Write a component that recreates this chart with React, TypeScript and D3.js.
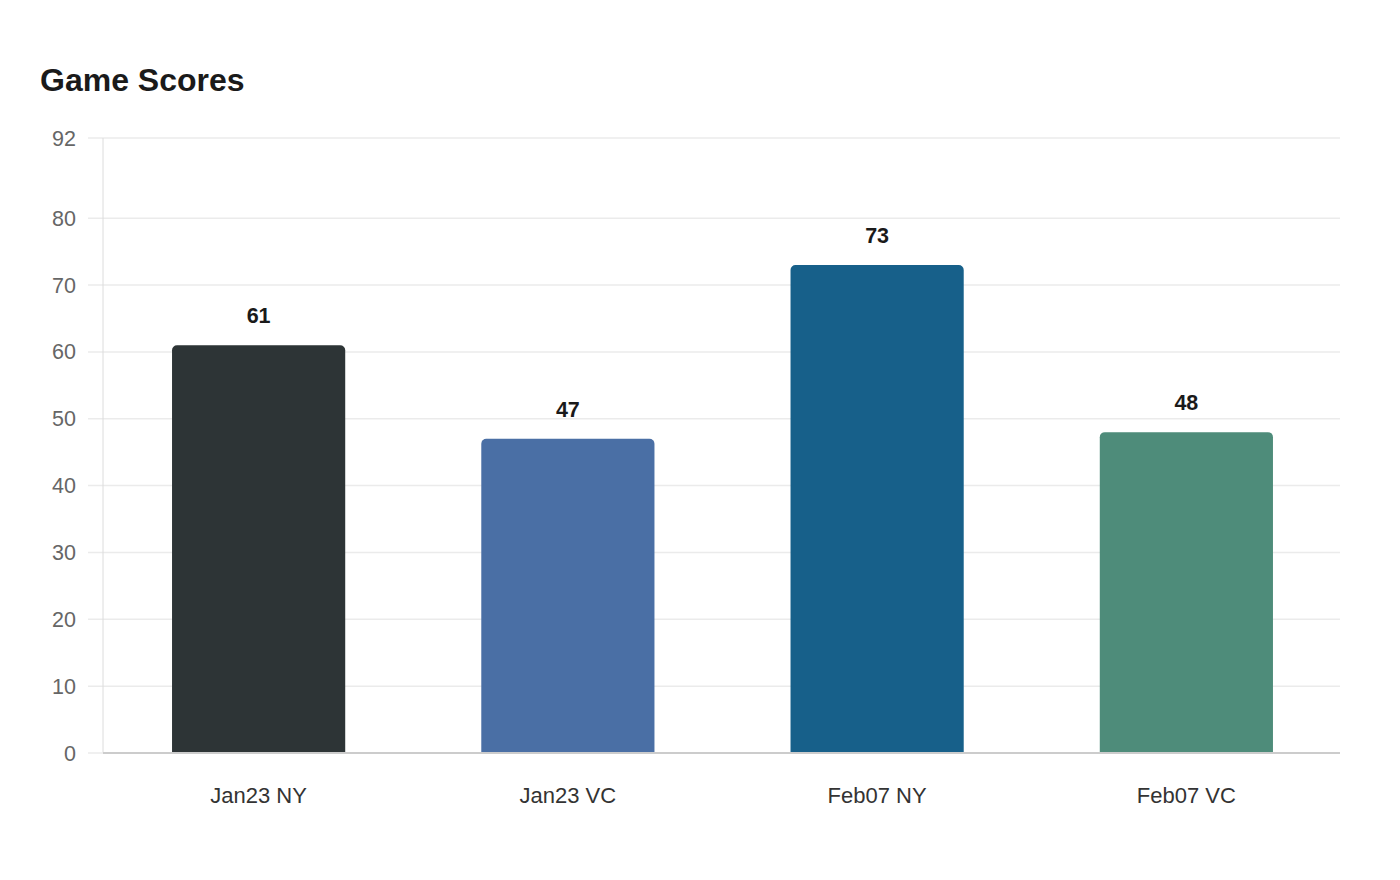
import React from "react";
import * as d3 from "d3";

const categories = ["Jan23 NY", "Jan23 VC", "Feb07 NY", "Feb07 VC"];
const scores = [61, 47, 73, 48];
const colors = ["#2d3436", "#4a6fa5", "#17608a", "#4e8c7a"];
const yTicks = [0, 10, 20, 30, 40, 50, 60, 70, 80, 92];

const W = 1400;
const H = 880;
const left = 103;
const right = 1340;
const top = 138;
const bottom = 753;
const FONT = "'Liberation Sans', Arial, Helvetica, sans-serif";

function topRoundedRect(x: number, y: number, w: number, h: number, r: number) {
  const p = d3.path();
  p.moveTo(x, y + h);
  p.lineTo(x, y + r);
  p.arcTo(x, y, x + r, y, r);
  p.lineTo(x + w - r, y);
  p.arcTo(x + w, y, x + w, y + r, r);
  p.lineTo(x + w, y + h);
  p.closePath();
  return p.toString();
}

export default function App() {
  const x = d3.scaleBand<string>().domain(categories).range([left + 1, right + 1]).paddingInner(0.44).paddingOuter(0.22);
  const y = d3.scaleLinear().domain([0, 92]).range([bottom, top]);

  return (
    <svg width={W} height={H} style={{ position: "absolute", left: 0, top: 0, background: "#fff" }} fontFamily={FONT}>
      <text x={40} y={91} fontSize={32} fontWeight="bold" fill="#1a1a1a">Game Scores</text>
      {yTicks.map((t) => (
        <g key={t}>
          {t !== 0 && (
            <line x1={88} x2={right} y1={y(t)} y2={y(t)} stroke="#ebebeb" strokeWidth={1.5} />
          )}
          <text x={76} y={y(t)} dy="0.35em" textAnchor="end" fontSize={21.5} fill="#666">{t}</text>
        </g>
      ))}
      <line x1={left} x2={left} y1={top} y2={bottom} stroke="#dcdcdc" strokeWidth={1} />
      <line x1={88} x2={left} y1={bottom} y2={bottom} stroke="#ebebeb" strokeWidth={1.5} />
      {categories.map((c, i) => {
        const bx = x(c)!;
        const bw = x.bandwidth();
        const by = y(scores[i]);
        return (
          <g key={c}>
            <path d={topRoundedRect(bx, by, bw, bottom - by, 5)} fill={colors[i]} />
            <text x={bx + bw / 2} y={by - 22} textAnchor="middle" fontSize={21.5} fontWeight="bold" fill="#1a1a1a">{scores[i]}</text>
            <text x={bx + bw / 2} y={803} textAnchor="middle" fontSize={22} fill="#333">{c}</text>
          </g>
        );
      })}
      <line x1={left} x2={right} y1={bottom} y2={bottom} stroke="#cccccc" strokeWidth={2} />
    </svg>
  );
}
